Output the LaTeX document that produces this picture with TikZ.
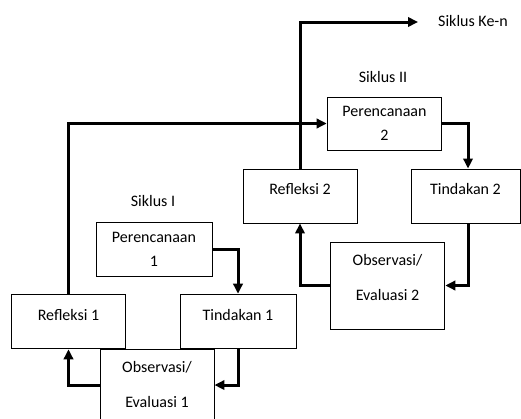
\documentclass[tikz,border=0pt]{standalone}
\usepackage{fontspec}
\setmainfont{Carlito}
\usepackage{tikz}
\usetikzlibrary{arrows.meta}
\tikzset{box/.style={draw, line width=0.7pt, fill=white, minimum width=86pt, minimum height=41pt, inner sep=2pt, font=\fontsize{12}{14.5}\selectfont},
	onebox/.style={box, text height=9pt, text depth=11pt},
	twobox/.style={box, align=center},
	tag/.style={font=\fontsize{12}{14.5}\selectfont},
	flow/.style={line width=2.25pt, -{Triangle[length=7.5pt,width=7pt]}}}

\begin{document}
\begin{tikzpicture}[x=0.75pt, y=-0.75pt]
			\useasboundingbox (0,0) rectangle (521,418);
			\clip (0,0) rectangle (521,418);
			% siklus I
			\node[tag] (s1) at (153,201) {Siklus I};
			\node[twobox, minimum width=87pt, minimum height=40.5pt] (p1) at (154,249) {Perencanaan\\[3.5pt]1};
			\node[onebox] (r1) at (68.5,321.5) {Refleksi 1};
			\node[onebox, minimum width=87pt] (t1) at (238,321.5) {Tindakan 1};
			\node[twobox, minimum width=85.5pt, minimum height=65.25pt] (o1) at (157,392.5) {Observasi/\\[12pt]Evaluasi 1\rule[-12pt]{0pt}{12pt}};
			% siklus II
			\node[tag] (s2) at (383,77) {Siklus II};
			\node[twobox, minimum height=39.75pt] (p2) at (384.5,123.5) {Perencanaan\\[3.5pt]2};
			\node[onebox, minimum width=85.5pt, minimum height=40.5pt] (r2) at (300,196) {Refleksi 2};
			\node[onebox, minimum width=81.75pt, minimum height=40.5pt] (t2) at (465.5,196) {Tindakan 2};
			\node[twobox, minimum height=65.25pt] (o2) at (387.5,285.5) {Observasi/\\[12pt]Evaluasi 2\rule[-12pt]{0pt}{12pt}};
			% siklus ke-n
			\node[tag] (ken) at (473,21) {Siklus Ke-n};
			\coordinate (kenend) at (418,22);

			\draw[flow] (p1.east) -| (t1.north);
			\draw[flow] (t1.south) |- ([yshift=5.6pt]o1.east);
			\draw[flow] ([yshift=5.6pt]o1.west) -| (r1.south);
			\draw[flow] (r1.north) |- (p2.west);
			\draw[flow] (p2.east) -| ([xshift=1.9pt]t2.north);
			\draw[flow] ([xshift=1.9pt]t2.south) |- (o2.east);
			\draw[flow] (o2.west) -| (r2.south);
			\draw[flow] (r2.north) |- (kenend);
		\end{tikzpicture}
\end{document}
